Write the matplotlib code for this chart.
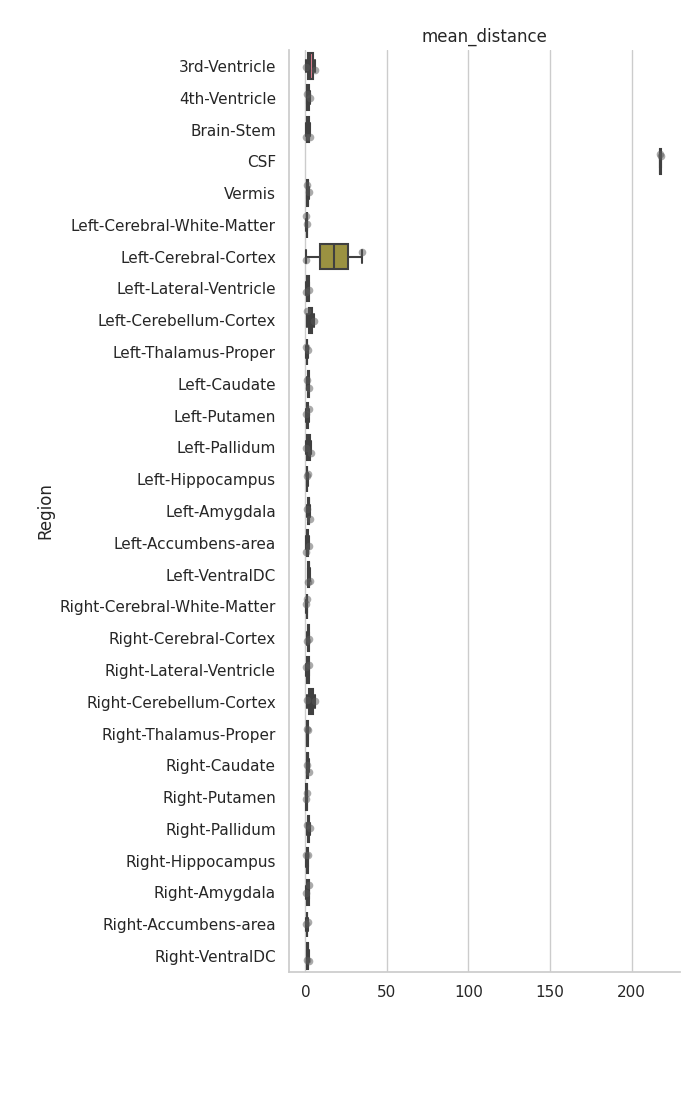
import numpy as np
import pandas as pd
import matplotlib
matplotlib.use("Agg")
import matplotlib.pyplot as plt
import seaborn as sns

regions = [
    "3rd-Ventricle", "4th-Ventricle", "Brain-Stem", "CSF", "Vermis",
    "Left-Cerebral-White-Matter", "Left-Cerebral-Cortex", "Left-Lateral-Ventricle",
    "Left-Cerebellum-Cortex", "Left-Thalamus-Proper", "Left-Caudate", "Left-Putamen",
    "Left-Pallidum", "Left-Hippocampus", "Left-Amygdala", "Left-Accumbens-area",
    "Left-VentralDC", "Right-Cerebral-White-Matter", "Right-Cerebral-Cortex",
    "Right-Lateral-Ventricle", "Right-Cerebellum-Cortex", "Right-Thalamus-Proper",
    "Right-Caudate", "Right-Putamen", "Right-Pallidum", "Right-Hippocampus",
    "Right-Amygdala", "Right-Accumbens-area", "Right-VentralDC",
]

# mean_distance samples per region
values = {
    "3rd-Ventricle": [0.6, 5.6],
    "4th-Ventricle": [0.8, 2.6],
    "Brain-Stem": [0.6, 2.6],
    "CSF": [217.5, 217.9],
    "Vermis": [1.0, 2.0],
    "Left-Cerebral-White-Matter": [0.6, 1.1],
    "Left-Cerebral-Cortex": [0.6, 35.0],
    "Left-Lateral-Ventricle": [0.5, 2.5],
    "Left-Cerebellum-Cortex": [1.2, 5.0],
    "Left-Thalamus-Proper": [0.6, 1.5],
    "Left-Caudate": [1.2, 2.2],
    "Left-Putamen": [0.3, 2.0],
    "Left-Pallidum": [0.6, 3.2],
    "Left-Hippocampus": [0.8, 1.4],
    "Left-Amygdala": [0.8, 3.0],
    "Left-Accumbens-area": [0.3, 2.0],
    "Left-VentralDC": [1.5, 2.6],
    "Right-Cerebral-White-Matter": [0.6, 1.1],
    "Right-Cerebral-Cortex": [1.0, 2.2],
    "Right-Lateral-Ventricle": [0.6, 2.4],
    "Right-Cerebellum-Cortex": [1.0, 5.6],
    "Right-Thalamus-Proper": [0.8, 1.6],
    "Right-Caudate": [0.8, 2.0],
    "Right-Putamen": [0.3, 1.2],
    "Right-Pallidum": [1.0, 2.6],
    "Right-Hippocampus": [0.6, 1.6],
    "Right-Amygdala": [0.6, 2.4],
    "Right-Accumbens-area": [0.5, 1.4],
    "Right-VentralDC": [1.0, 2.0],
}

rows = [(r, v) for r in regions for v in values[r]]
df = pd.DataFrame(rows, columns=["Region", "mean_distance"])

sns.set_theme(style="whitegrid")
plt.rcParams["font.family"] = ["DejaVu Sans"]

fig = plt.figure(figsize=(7, 11), dpi=100)
ax = fig.add_axes([0.413, 0.1164, 0.558, 0.8381])

sns.boxplot(data=df, x="mean_distance", y="Region", hue="Region", order=regions,
            hue_order=regions, palette="husl", saturation=0.75, legend=False,
            width=0.8, linewidth=1.5, whis=1.5, fliersize=0, ax=ax, zorder=2)
np.random.seed(3)
sns.stripplot(data=df, x="mean_distance", y="Region", order=regions, color="0.35",
              alpha=0.5, size=5.5, jitter=0.3, ax=ax, zorder=3)

ax.set_xlim(-10, 229.5)
ax.set_xticks([0, 50, 100, 150, 200])
ax.set_xlabel("")
ax.set_ylabel("Region", fontsize=12)
ax.set_title("mean_distance", fontsize=12)
ax.tick_params(axis="both", labelsize=11)
ax.grid(axis="y", visible=False)
ax.grid(axis="x", visible=True, color="#cccccc", linewidth=1)
sns.despine(ax=ax)
for s in ["left", "bottom"]:
    ax.spines[s].set_color("#cccccc")

fig.savefig("out.png", dpi=100)
